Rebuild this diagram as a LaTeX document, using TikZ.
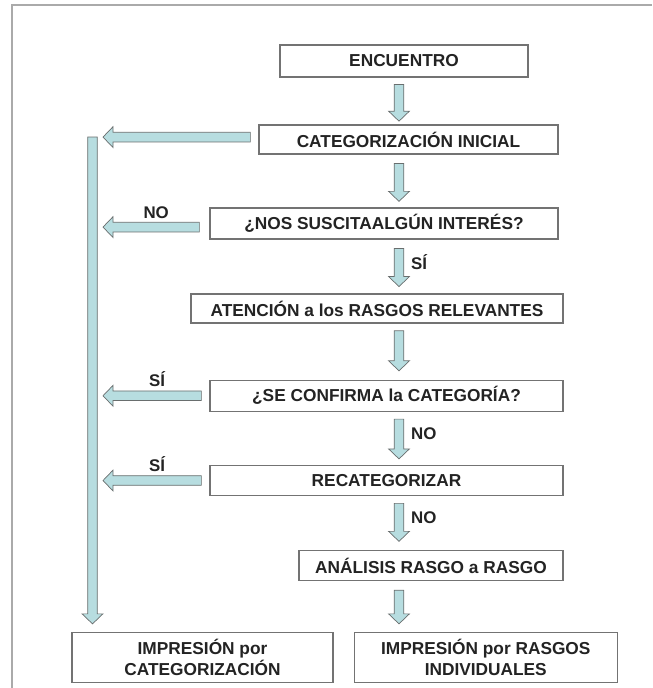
\documentclass[tikz,border=0pt]{standalone}
\usepackage{fontspec}
\setmainfont{Liberation Sans}
\usepackage{tikz}
\usetikzlibrary{positioning, calc}
\definecolor{arrfill}{RGB}{183,221,224}
\definecolor{arrline}{RGB}{105,110,110}
\definecolor{boxline}{RGB}{115,115,115}
\definecolor{framegray}{RGB}{170,170,170}
\definecolor{txtgray}{RGB}{35,35,35}
\tikzset{
  box/.style = {
    rectangle, draw=boxline, line width=0.9pt, fill=white,
    text=txtgray, align=center, inner sep=2pt,
    minimum height=0.75cm, font=\fontsize{12.3}{15}\selectfont\bfseries
  },
  lbl/.style = {
    text=txtgray, inner sep=1pt, font=\fontsize{12}{14}\selectfont\bfseries
  },
  downarr/.style = {
    draw=arrline, fill=arrfill, line width=0.5pt,
    to path={let \p1=(\tikztostart), \p2=(\tikztotarget) in
      (\x1-0.12cm,\y1) -- (\x1+0.12cm,\y1) -- (\x1+0.12cm,\y2+0.25cm) \tikztonodes
      -- (\x1+0.26cm,\y2+0.25cm) -- (\x1,\y2) -- (\x1-0.26cm,\y2+0.25cm)
      -- (\x1-0.12cm,\y2+0.25cm) -- cycle}
  },
  leftarr/.style = {
    draw=arrline, fill=arrfill, line width=0.5pt,
    to path={let \p1=(\tikztostart), \p2=(\tikztotarget) in
      (\x1,\y1-0.12cm) -- (\x1,\y1+0.12cm) -- (\x2+0.25cm,\y1+0.12cm) \tikztonodes
      -- (\x2+0.25cm,\y1+0.26cm) -- (\x2,\y1) -- (\x2+0.25cm,\y1-0.26cm)
      -- (\x2+0.25cm,\y1-0.12cm) -- cycle}
  }
}
\begin{document}
\begin{tikzpicture}
  \useasboundingbox (0,0) rectangle (16.3,-17.2);
  \draw[framegray, line width=1.5pt] (0.3,-17.2) -- (0.3,-0.125) -- (16.3,-0.125);

  % Boxes
  \node[box, minimum width=6.2cm, minimum height=0.8cm] (ENC) at (10.1,-1.525) {ENCUENTRO};
  \node[box, minimum width=7.475cm, minimum height=0.725cm] (CAT) at (10.2125,-3.4875) {CATEGORIZACIÓN INICIAL};
  \node[box, minimum width=8.7cm, minimum height=0.775cm] (NOS) at (9.6,-5.5875) {¿NOS SUSCITAALGÚN INTERÉS?};
  \node[box, minimum width=9.3cm, minimum height=0.725cm] (ATE) at (9.425,-7.7125) {ATENCIÓN a los RASGOS RELEVANTES};
  \node[box, minimum width=8.825cm, minimum height=0.775cm,
        below=1.4cm of ATE.south east, anchor=north east] (SE) {¿SE CONFIRMA la CATEGORÍA?};
  \node[box, minimum width=8.825cm,
        below=1.325cm of SE.south east, anchor=north east] (REC) {RECATEGORIZAR};
  \node[box, minimum width=6.6cm,
        below=1.35cm of REC.south east, anchor=north east] (ANA) {ANÁLISIS RASGO a RASGO};
  \node[box, minimum width=6.525cm, minimum height=1.25cm] (IMP1) at (5.0625,-16.4375)
    {IMPRESIÓN por\\CATEGORIZACIÓN};
  \node[box, minimum width=6.575cm, minimum height=1.25cm, right=0.5cm of IMP1] (IMP2)
    {IMPRESIÓN por RASGOS\\INDIVIDUALES};

  % Arrow columns
  \coordinate (col) at (9.975,0);
  \coordinate (tipcol) at (2.575,0);
  \coordinate (bartop) at (2.3125,-3.425);

  % Main flow
  \draw[downarr] ($(ENC.south -| col)+(0,-0.17)$) to ($(CAT.north -| col)+(0,0.08)$);
  \draw[downarr] ($(CAT.south -| col)+(0,-0.22)$) to ($(NOS.north -| col)+(0,0.15)$);
  \draw[downarr] ($(NOS.south -| col)+(0,-0.22)$) to node[lbl, right=4pt] {SÍ} ($(ATE.north -| col)+(0,0.17)$);
  \draw[downarr] ($(ATE.south -| col)+(0,-0.18)$) to ($(SE.north -| col)+(0,0.22)$);
  \draw[downarr] ($(SE.south -| col)+(0,-0.18)$) to node[lbl, right=4pt] {NO} ($(REC.north -| col)+(0,0.15)$);
  \draw[downarr] ($(REC.south -| col)+(0,-0.18)$) to node[lbl, right=4pt] {NO} ($(ANA.north -| col)+(0,0.22)$);
  \draw[downarr] ($(ANA.south -| col)+(0,-0.22)$) to ($(IMP2.north -| col)+(0,0.2)$);

  % Exits to the left
  \draw[leftarr] ($(CAT.west)+(-0.2,0.06)$) to (tipcol);
  \draw[leftarr] ($(NOS.west)+(-0.25,-0.09)$) to node[lbl, above=1.5pt] {NO} (tipcol);
  \draw[leftarr] ($(SE.west)+(-0.2,0)$) to node[lbl, above=1.5pt] {SÍ} (tipcol);
  \draw[leftarr] ($(REC.west)+(-0.2,0)$) to node[lbl, above=1.5pt] {SÍ} (tipcol);
  \draw[downarr] (bartop) to ($(IMP1.north -| bartop)+(0,0.2)$);
\end{tikzpicture}
\end{document}
